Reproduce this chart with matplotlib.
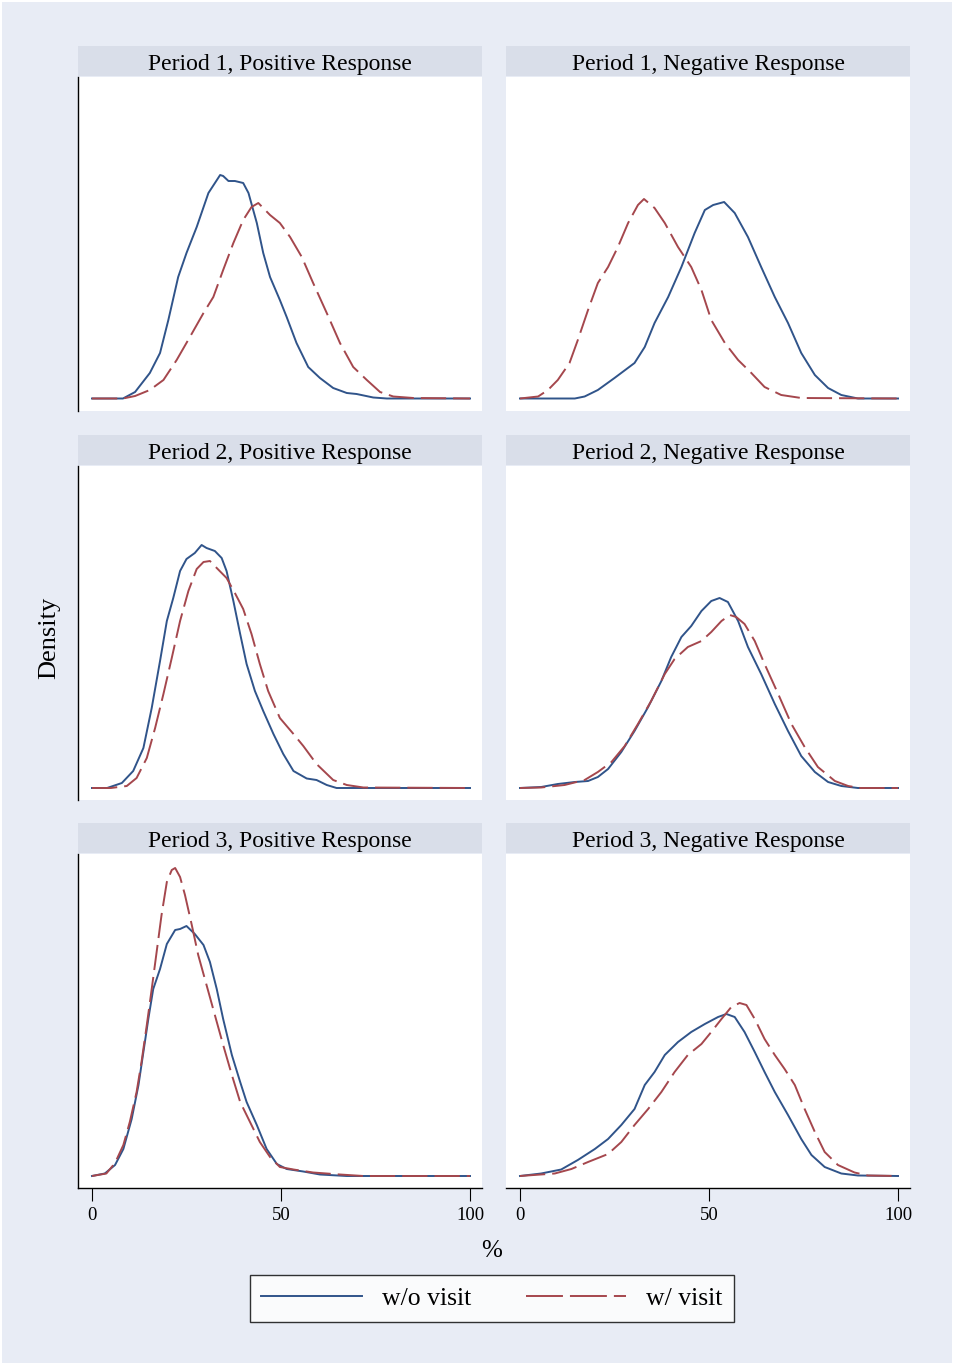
import matplotlib
matplotlib.use("Agg")
import matplotlib.pyplot as plt
import matplotlib.patches as mpatches
from matplotlib.lines import Line2D

plt.rcParams['font.family'] = ['Liberation Serif', 'DejaVu Serif']

# kernel density estimates (x in %, y = density)
titles = ["Period 1, Positive Response", "Period 1, Negative Response",
          "Period 2, Positive Response", "Period 2, Negative Response",
          "Period 3, Positive Response", "Period 3, Negative Response"]

p1_pos_wo_x = [0, 8.2, 11.4, 15.3, 18, 20.2, 22.8, 25, 27.7, 30.8, 33.9, 34.7, 36.1, 37.8, 40.0, 41.4, 43.6,
               45.3, 47.1, 49.7, 51.5, 54.1, 57.2, 60.3, 63.8, 67.4, 70, 74.4, 78, 100]
p1_pos_wo_y = [0.0001, 0.0001, 0.0014, 0.0052, 0.0092, 0.0158, 0.0244, 0.0292, 0.0344, 0.0412, 0.0448, 0.0446,
               0.0436, 0.0436, 0.0432, 0.0412, 0.0352, 0.0292, 0.0244, 0.0198, 0.0164, 0.0112, 0.0064, 0.0042,
               0.0022, 0.0012, 0.0010, 0.0003, 0.0001, 0.0001]
p1_pos_w_x = [0, 8.2, 11.4, 15.3, 18.9, 22.4, 25.9, 29.5, 32.1, 34.7, 37.4, 40, 42.2, 44, 47.1, 49.7, 52.4,
              55.5, 58.5, 62.1, 65.6, 69.1, 72.7, 76.2, 79.7, 85, 100]
p1_pos_w_y = [0.0001, 0.0001, 0.0006, 0.0018, 0.0038, 0.0078, 0.0124, 0.0172, 0.0204, 0.0258, 0.0312, 0.0358,
              0.0384, 0.0392, 0.0368, 0.0352, 0.0324, 0.0284, 0.0232, 0.0172, 0.0112, 0.0064, 0.0038, 0.0014,
              0.0005, 0.0002, 0.0001]

p1_neg_wo_x = [0, 14.5, 17.1, 20.6, 25, 30.3, 33, 35.6, 39.2, 42.7, 46.2, 48.9, 51.1, 54, 56.8, 60.3, 63.8,
               67.4, 70.9, 74.4, 78, 81.5, 85, 89.4, 100]
p1_neg_wo_y = [0.0001, 0.0001, 0.0005, 0.0018, 0.0042, 0.0072, 0.0104, 0.0152, 0.0204, 0.0264, 0.0332, 0.0378,
               0.0388, 0.0394, 0.0372, 0.0324, 0.0264, 0.0204, 0.0152, 0.0092, 0.0048, 0.0022, 0.0008, 0.0001,
               0.0001]
p1_neg_w_x = [0, 4.8, 7.4, 10, 13.1, 15.3, 18, 20.6, 23.3, 25.9, 28.6, 31.2, 32.8, 35.6, 38.3, 41.8, 45.3, 48,
              50.6, 54.2, 57.7, 61.2, 64.7, 69.1, 74.4, 100]
p1_neg_w_y = [0.0001, 0.0005, 0.0018, 0.0038, 0.0072, 0.0118, 0.0178, 0.0232, 0.0264, 0.0304, 0.0352, 0.0388,
              0.0400, 0.0382, 0.0352, 0.0304, 0.0264, 0.0218, 0.0158, 0.0112, 0.0078, 0.0052, 0.0024, 0.0008,
              0.0002, 0.0001]

p2_pos_wo_x = [0, 4, 7.9, 10.9, 13.6, 15.8, 18, 19.8, 21.5, 23.3, 25, 27.2, 29, 30.3, 32.5, 34.3, 35.6, 37.4,
               39.2, 40.9, 43.1, 45.3, 48, 50.6, 53.3, 56.8, 59.4, 62.1, 64.7, 100]
p2_pos_wo_y = [0, 0, 0.0010, 0.0034, 0.0080, 0.0160, 0.0254, 0.0334, 0.0380, 0.0434, 0.0458, 0.0470, 0.0486,
               0.0480, 0.0474, 0.0460, 0.0434, 0.0374, 0.0308, 0.0248, 0.0194, 0.0154, 0.0108, 0.0068, 0.0034,
               0.0019, 0.0016, 0.0006, 0, 0]
p2_pos_w_x = [0, 5, 9.2, 11.8, 14.5, 16.7, 18.9, 21.1, 23.3, 25.5, 27.7, 29.5, 31.2, 33, 35.6, 37.8, 40, 42.2,
              44.4, 46.6, 49.7, 53.3, 55.9, 59.4, 63.8, 67.4, 71.8, 100]
p2_pos_w_y = [0, 0, 0.0004, 0.0020, 0.0060, 0.0120, 0.0188, 0.0260, 0.0334, 0.0394, 0.0438, 0.0452, 0.0454,
              0.0440, 0.0420, 0.0390, 0.0358, 0.0308, 0.0248, 0.0194, 0.0140, 0.0108, 0.0084, 0.0048, 0.0016,
              0.0006, 0.0001, 0]

p2_neg_wo_x = [0, 5.6, 10, 14.5, 18, 20.6, 23.3, 26.8, 30.3, 33.9, 37.4, 40, 42.7, 45.3, 48, 50.6, 52.8, 55,
               57.7, 60.3, 63.8, 67.4, 70.9, 74.4, 78, 81.5, 85, 89.4, 100]
p2_neg_wo_y = [0, 0.0002, 0.0008, 0.0012, 0.0014, 0.0022, 0.0038, 0.0072, 0.0114, 0.0162, 0.0214, 0.0262,
               0.0302, 0.0324, 0.0354, 0.0374, 0.0380, 0.0372, 0.0334, 0.0282, 0.0228, 0.0168, 0.0114, 0.0064,
               0.0032, 0.0012, 0.0004, 0, 0]
p2_neg_w_x = [0, 5.6, 11.8, 17.1, 20.6, 24.2, 27.7, 31.2, 34.7, 38.3, 40.9, 44.4, 48, 50.6, 53.3, 55.5, 57.2,
              59.4, 62.1, 64.7, 68.3, 71.8, 75.3, 78.8, 83.3, 86.8, 90, 100]
p2_neg_w_y = [0, 0.0001, 0.0006, 0.0016, 0.0032, 0.0052, 0.0084, 0.0128, 0.0174, 0.0228, 0.0258, 0.0282,
              0.0294, 0.0312, 0.0334, 0.0346, 0.0342, 0.0328, 0.0294, 0.0248, 0.0188, 0.0128, 0.0082, 0.0042,
              0.0014, 0.0004, 0, 0]

p3_pos_wo_x = [0, 3.4, 6.1, 8.3, 10.5, 12.3, 13.6, 14.9, 16.2, 18, 19.8, 22, 23.3, 25, 27.2, 29.5, 31.2, 33,
               34.7, 37, 39.2, 40.9, 43.6, 46.2, 48.9, 51.5, 55.9, 60.3, 67.4, 100]
p3_pos_wo_y = [0, 0.0005, 0.0022, 0.0054, 0.0114, 0.0182, 0.0248, 0.0314, 0.0374, 0.0414, 0.0464, 0.0492,
               0.0494, 0.0500, 0.0484, 0.0462, 0.0428, 0.0374, 0.0314, 0.0242, 0.0188, 0.0148, 0.0102, 0.0054,
               0.0024, 0.0014, 0.0009, 0.0003, 0, 0]
p3_pos_w_x = [0, 3.8, 6.1, 8.3, 10, 11.8, 13.1, 14.5, 15.8, 17.1, 18.4, 19.8, 21.1, 22, 23.3, 24.6, 26.4, 28.1,
              30.3, 32.5, 34.7, 37, 39.2, 41.8, 44.4, 47.1, 49.7, 53.3, 58.5, 65.6, 71.8, 100]
p3_pos_w_y = [0, 0.0005, 0.0026, 0.0062, 0.0108, 0.0168, 0.0228, 0.0302, 0.0374, 0.0448, 0.0522, 0.0588,
              0.0612, 0.0616, 0.0598, 0.0562, 0.0502, 0.0442, 0.0382, 0.0322, 0.0262, 0.0202, 0.0148, 0.0108,
              0.0068, 0.0038, 0.0018, 0.0013, 0.0007, 0.0003, 0, 0]

p3_neg_wo_x = [0, 5.6, 10.9, 15.3, 19.8, 23.3, 26.8, 30.3, 33, 35.6, 38.3, 41.8, 45.3, 48.9, 52.4, 54.6, 56.8,
               59.4, 62.1, 64.7, 67.4, 70.9, 74.4, 77.1, 80.6, 85, 89.4, 100]
p3_neg_wo_y = [0, 0.0005, 0.0013, 0.0032, 0.0054, 0.0074, 0.0102, 0.0134, 0.0182, 0.0208, 0.0242, 0.0268,
               0.0288, 0.0304, 0.0318, 0.0324, 0.0318, 0.0288, 0.0248, 0.0208, 0.0168, 0.0122, 0.0074, 0.0042,
               0.0018, 0.0005, 0.0001, 0]
p3_neg_w_x = [0, 9.2, 13.6, 18, 23.3, 26.8, 30.3, 33.9, 37.4, 40.9, 44.4, 48, 50.6, 53.3, 55.9, 58.1, 59.9,
              62.1, 64.7, 67.4, 70, 72.7, 75.3, 78, 80.6, 84.1, 88.5, 92, 100]
p3_neg_w_y = [0, 0.0005, 0.0014, 0.0028, 0.0044, 0.0068, 0.0102, 0.0134, 0.0168, 0.0208, 0.0242, 0.0264,
              0.0288, 0.0314, 0.0338, 0.0346, 0.0342, 0.0314, 0.0274, 0.0242, 0.0214, 0.0182, 0.0134, 0.0088,
              0.0048, 0.0022, 0.0007, 0.0001, 0]

panels = [
    (p1_pos_wo_x, p1_pos_wo_y, p1_pos_w_x, p1_pos_w_y),
    (p1_neg_wo_x, p1_neg_wo_y, p1_neg_w_x, p1_neg_w_y),
    (p2_pos_wo_x, p2_pos_wo_y, p2_pos_w_x, p2_pos_w_y),
    (p2_neg_wo_x, p2_neg_wo_y, p2_neg_w_x, p2_neg_w_y),
    (p3_pos_wo_x, p3_pos_wo_y, p3_pos_w_x, p3_pos_w_y),
    (p3_neg_wo_x, p3_neg_wo_y, p3_neg_w_x, p3_neg_w_y),
]

xticks = [0, 50, 100]
bg = '#e8ecf5'
strip = '#d9dee9'
blue = '#30548a'
red = '#a5474d'
lw = 1.4
dash = (0, (13, 3.6))
dash_leg = (0, (19, 3.6))

W, H = 954, 1365
fig = plt.figure(figsize=(W / 100, H / 100), dpi=100)
fig.patch.set_facecolor('white')
fig.patches.append(mpatches.Rectangle((2 / W, 2 / H), 1 - 4 / W, 1 - 4 / H, transform=fig.transFigure,
                                      facecolor=bg, edgecolor='none', zorder=-10))

col_left = [78, 506]
row_top = [77, 466, 854]
ax_w, ax_h = 404, 334
strip_h = 30

for i, (xa, ya, xb, yb) in enumerate(panels):
    r, c = divmod(i, 2)
    left = col_left[c] / W
    bottom = 1 - (row_top[r] + ax_h) / H
    ax = fig.add_axes([left, bottom, ax_w / W, ax_h / H])
    ax.set_facecolor('white')
    ax.plot(xa, ya, color=blue, lw=lw)
    ax.plot(xb, yb, color=red, lw=lw, linestyle=dash)
    ax.set_xlim(-3.7, 103.17)
    ax.set_ylim(-0.0024, 0.0644)
    ax.set_yticks([])
    for s in ['top', 'right']:
        ax.spines[s].set_visible(False)
    ax.spines['left'].set_visible(c == 0)
    ax.spines['bottom'].set_visible(r == 2)
    for s in ['left', 'bottom']:
        ax.spines[s].set_linewidth(1.0)
    if r == 2:
        ax.set_xticks(xticks)
        ax.tick_params(axis='x', direction='out', length=9, width=0.8, labelsize=13.5, pad=5)
    else:
        ax.set_xticks([])
    # header strip
    ax.add_patch(mpatches.Rectangle((0, 1.0 + 1 / ax_h), 1, strip_h / ax_h, transform=ax.transAxes,
                                    facecolor=strip, edgecolor='none', clip_on=False))
    ax.text(0.5, 1.0 + 7 / ax_h, titles[i], transform=ax.transAxes,
            ha='center', va='baseline', fontsize=17)

fig.text(49 / W, 1 - 638 / H, 'Density', rotation=90, ha='center', va='center', fontsize=19)
fig.text(492 / W, 1 - 1251 / H, '%', ha='center', va='center', fontsize=18)

handles = [Line2D([], [], color=blue, lw=lw),
           Line2D([], [], color=red, lw=lw, linestyle=dash_leg)]
leg = fig.legend(handles, ['w/o visit', 'w/ visit'], ncol=2, loc='center',
                 bbox_to_anchor=(492 / W, 1 - 1298.5 / H), fontsize=18.5, frameon=True,
                 fancybox=False, edgecolor='black', handlelength=3.9, handletextpad=0.78,
                 columnspacing=2.14, borderpad=0.45)
leg.get_frame().set_linewidth(1.0)

fig.savefig('out.png', dpi=100, facecolor=fig.get_facecolor())
